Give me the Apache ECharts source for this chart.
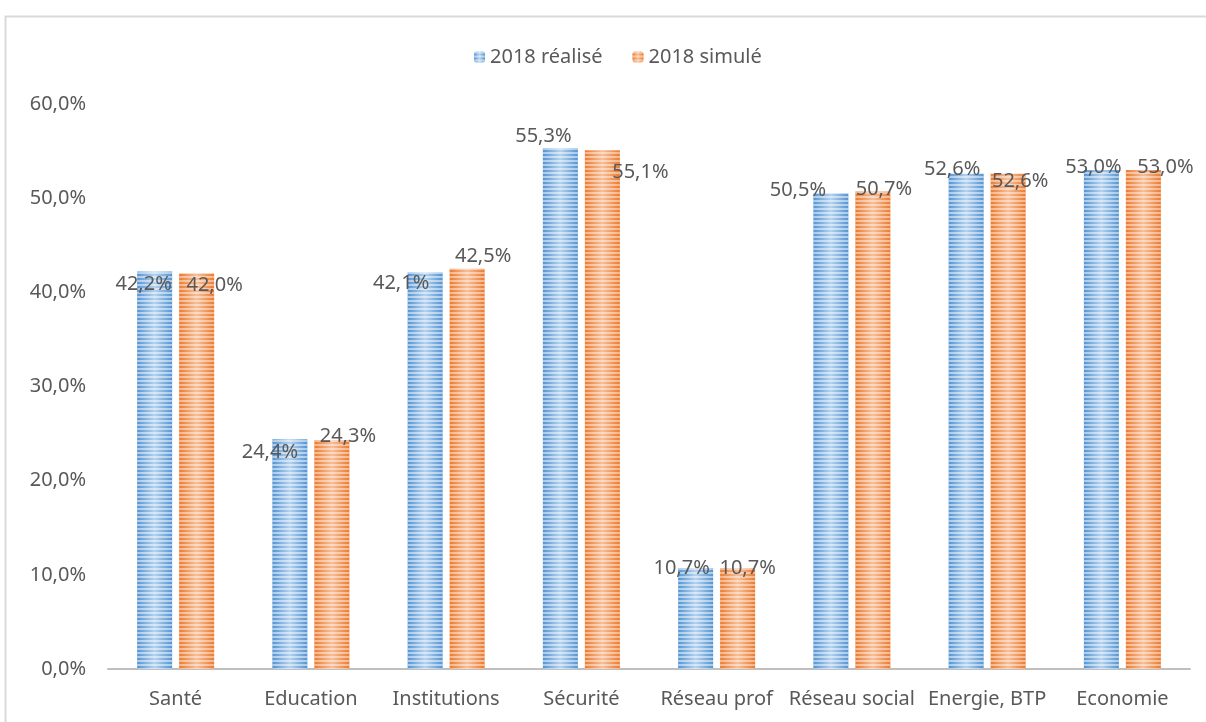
<!DOCTYPE html>
<html>
<head>
<meta charset="utf-8">
<script src="https://cdn.jsdelivr.net/npm/echarts@6/dist/echarts.min.js"></script>
<style>
html,body{margin:0;padding:0;background:#fff;}
#chart{width:1206px;height:722px;}
</style>
</head>
<body>
<div id="chart"></div>
<script>
const categories = ['Santé', 'Education', 'Institutions', 'Sécurité', 'Réseau prof', 'Réseau social', 'Energie, BTP', 'Economie'];
const seriesNames = ['2018 réalisé', '2018 simulé'];
const realise = [42.2, 24.4, 42.1, 55.3, 10.7, 50.5, 52.6, 53.0];
const simule = [42.0, 24.3, 42.5, 55.1, 10.7, 50.7, 52.6, 53.0];
const yMin = 0, yMax = 60, yStep = 10;

function fmt(v) { return v.toFixed(1).replace('.', ',') + '%'; }

function buildOption() {
  const FONT = '"Noto Sans", sans-serif';
  const TXT = '#595959';
  // label placement tweaks (style only): [dx, dy] relative to bar top centre
  const blueOffsets = [[-11, 13], [-20, 13], [-24, 11], [-17, -12], [-14, 0], [-33, -3], [-14, -4], [-8, -3]];
  const orangeOffsets = [[18, 12], [16, -4], [16, -12], [38, 22], [10, 0], [11, -2], [12, 8], [22, -3]];

  function barStyle(edge, mid, stripe) {
    return {
      color: {
        type: 'linear', x: 0, y: 0, x2: 1, y2: 0,
        colorStops: [{ offset: 0, color: edge }, { offset: 0.5, color: mid }, { offset: 1, color: edge }]
      },
      decal: {
        symbol: 'rect', symbolSize: 1, dashArrayX: [1, 0], dashArrayY: [2, 1.5],
        rotation: 0, color: stripe
      }
    };
  }

  function mkData(vals, offs) {
    return vals.map((v, i) => ({ value: v, label: { offset: offs[i] } }));
  }

  const labelBase = {
    show: true, position: 'top', distance: 0, verticalAlign: 'middle',
    fontFamily: FONT, fontSize: 20, color: TXT,
    formatter: p => fmt(p.value)
  };

  return {
    animation: false,
    backgroundColor: '#fff',
    textStyle: { fontFamily: FONT },
    graphic: [{
      type: 'rect', left: 3, top: 14, silent: true,
      shape: { width: 1240, height: 740 },
      style: { fill: 'none', stroke: '#d9d9d9', lineWidth: 2 }
    }],
    legend: {
      top: 42, left: 469, itemWidth: 11, itemHeight: 11, itemGap: 30,
      textStyle: { fontFamily: FONT, fontSize: 20, color: TXT },
      data: seriesNames
    },
    grid: { left: 108, right: 16, top: 104, bottom: 53, containLabel: false },
    xAxis: {
      type: 'category', data: categories,
      axisLine: { lineStyle: { color: '#bfbfbf', width: 2 } },
      axisTick: { show: false },
      axisLabel: { fontFamily: FONT, fontSize: 20, color: TXT, margin: 20, interval: 0 }
    },
    yAxis: {
      type: 'value', min: yMin, max: yMax, interval: yStep,
      axisLine: { show: false }, axisTick: { show: false },
      splitLine: { show: false },
      axisLabel: { fontFamily: FONT, fontSize: 20, color: TXT, margin: 22, formatter: v => fmt(v) }
    },
    series: [
      {
        name: seriesNames[0], type: 'bar', barWidth: 35, barGap: '20%',
        itemStyle: barStyle('#5394d2', '#b4d2ef', 'rgba(255,255,255,0.5)'),
        label: labelBase,
        data: mkData(realise, blueOffsets)
      },
      {
        name: seriesNames[1], type: 'bar', barWidth: 35, barGap: '20%',
        itemStyle: barStyle('#ec7a2e', '#f7bf98', 'rgba(255,255,255,0.45)'),
        label: labelBase,
        data: mkData(simule, orangeOffsets)
      }
    ]
  };
}

const chart = echarts.init(document.getElementById('chart'), null, { renderer: 'canvas' });
chart.setOption(buildOption());
</script>
</body>
</html>
